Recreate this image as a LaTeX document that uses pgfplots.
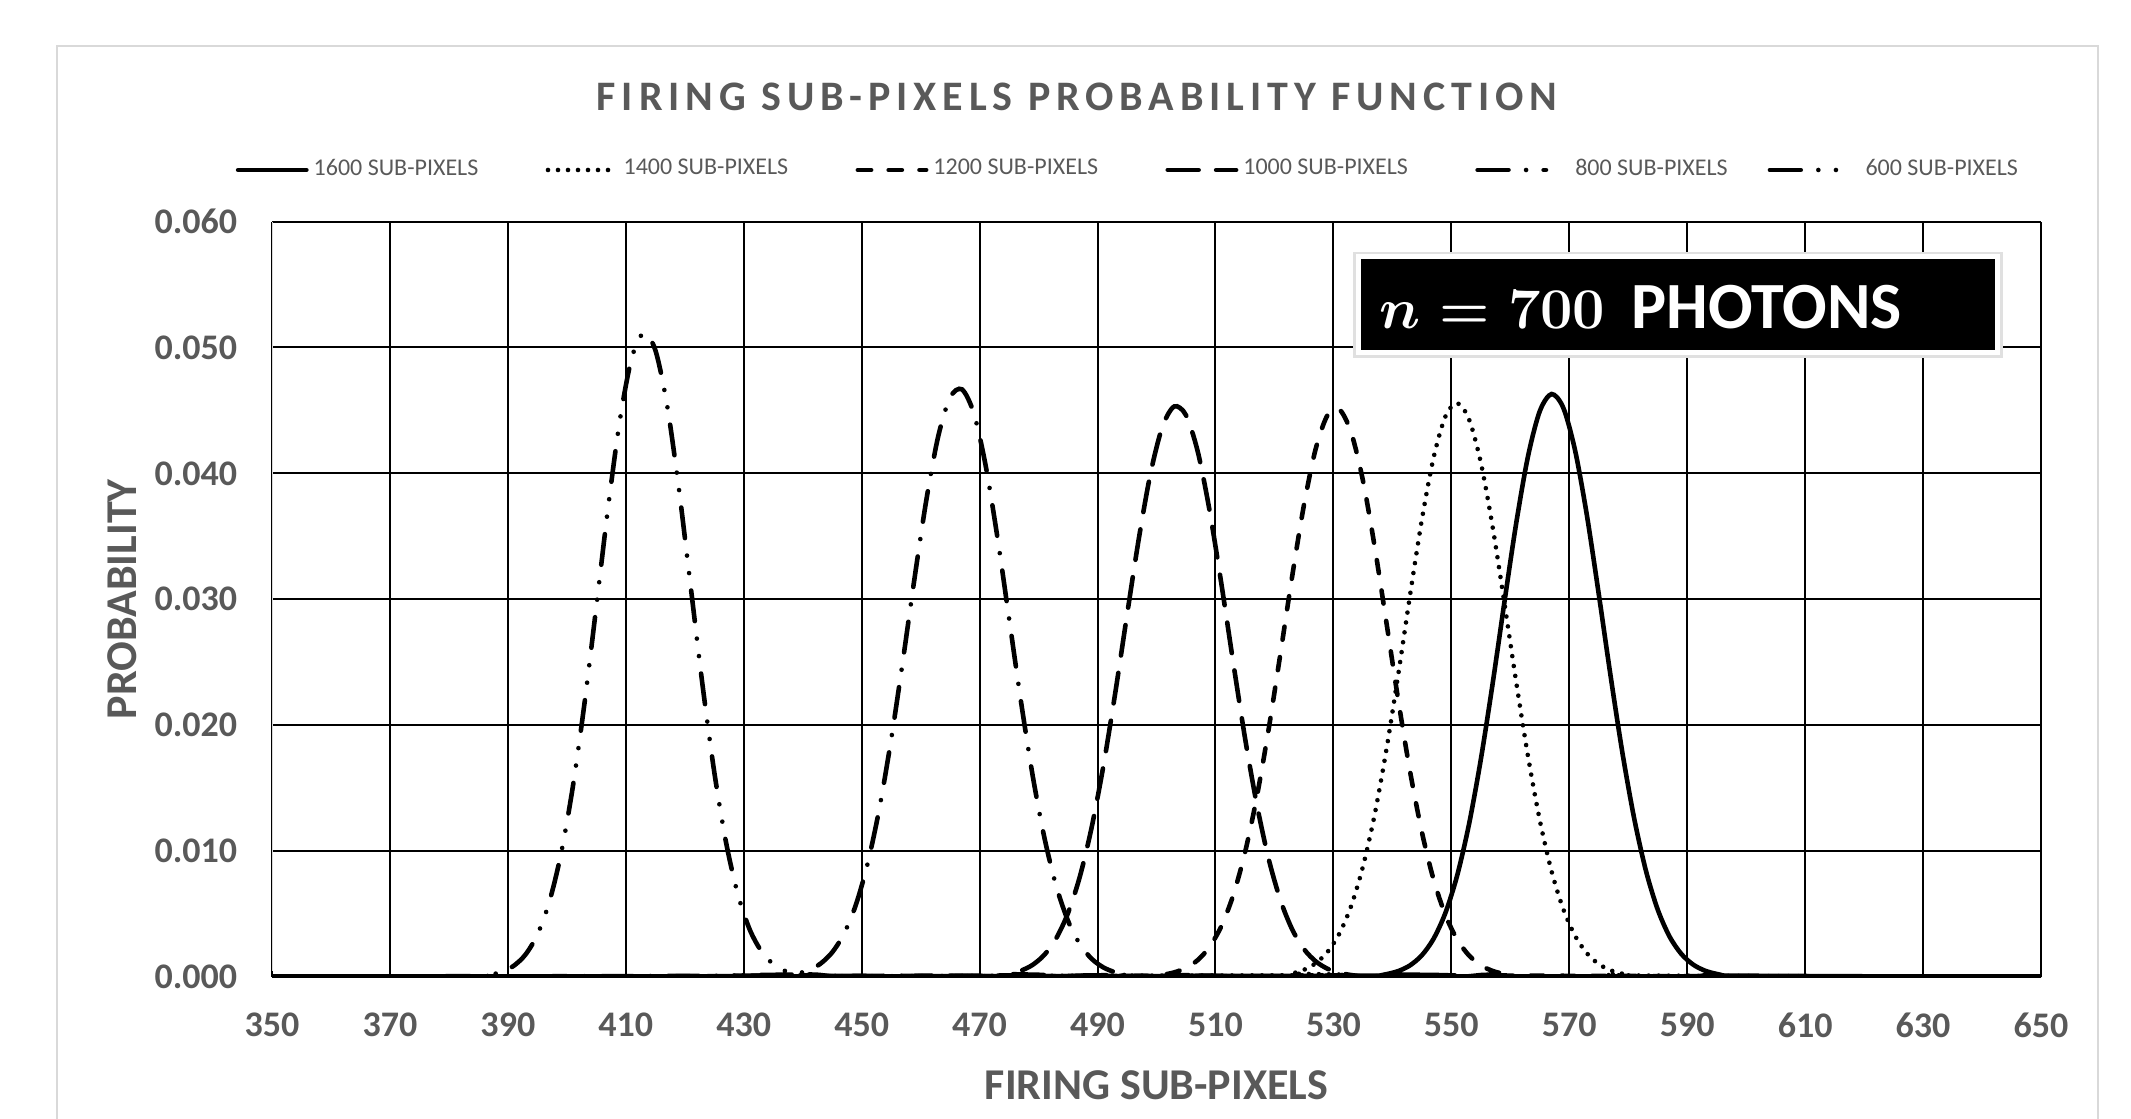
\documentclass[border=0pt]{standalone}
\usepackage{fontspec}
\usepackage{pgfplots}
\usepackage{pgfplotstable}
\pgfplotsset{compat=1.18}
\newfontfamily\carlito{Carlito}
\newfontfamily\carlitoSp[LetterSpace=14]{Carlito}
\definecolor{txtgray}{HTML}{595959}
\definecolor{framegray}{HTML}{D9D9D9}

% firing sub-pixels vs probability, n = 700 photons
\pgfplotstableread{
x y
350 0
537 0.000104
539 0.000227
541 0.000471
543 0.000927
545 0.001727
547 0.003048
549 0.005099
551 0.008083
553 0.01214
555 0.01728
557 0.02329
559 0.02977
561 0.03604
563 0.04135
565 0.04494
567 0.04630
569 0.04519
571 0.04179
573 0.03663
575 0.03041
577 0.02393
579 0.01784
581 0.01261
583 0.008439
585 0.005353
587 0.003217
589 0.001833
591 0.000989
593 0.000506
595 0.000245
597 0.000113
650 0
}\tSixteen

\pgfplotstableread{
x y
350 0
521 0.000133
523 0.000283
525 0.000572
527 0.001095
529 0.001991
531 0.003436
533 0.005629
535 0.008751
537 0.01291
539 0.01809
541 0.02404
543 0.03033
545 0.03632
547 0.04127
549 0.04452
551 0.04558
553 0.04429
555 0.04085
557 0.03575
559 0.02970
561 0.02342
563 0.01753
565 0.01245
567 0.008391
569 0.005369
571 0.003261
573 0.001880
575 0.001028
577 0.000534
579 0.000263
581 0.000123
650 0
}\tFourteen

\pgfplotstableread{
x y
350 0
499 0.0000811
501 0.000177
503 0.000367
505 0.000722
507 0.001349
509 0.002396
511 0.004044
513 0.006484
515 0.009873
517 0.01428
519 0.01963
521 0.02564
523 0.03180
525 0.03747
527 0.04195
529 0.04462
531 0.04508
533 0.04326
535 0.03945
537 0.03417
539 0.02812
541 0.02198
543 0.01632
545 0.01152
547 0.007717
549 0.004916
551 0.002973
553 0.001708
555 0.000932
557 0.000483
559 0.000238
561 0.000112
650 0
}\tTwelve

\pgfplotstableread{
x y
350 0
473 0.000116
475 0.000247
477 0.000502
479 0.000968
481 0.001771
483 0.003081
485 0.005086
487 0.007974
489 0.01188
491 0.01679
493 0.02255
495 0.02875
497 0.03481
499 0.04003
501 0.04370
503 0.04531
505 0.04462
507 0.04172
509 0.03704
511 0.03123
513 0.02501
515 0.01901
517 0.01373
519 0.009412
521 0.006128
523 0.003789
525 0.002225
527 0.001240
529 0.000657
531 0.000330
533 0.000158
535 0.0000714
650 0
}\tTen

\pgfplotstableread{
x y
350 0
437 0.000119
439 0.000260
441 0.000539
443 0.001055
445 0.001957
447 0.003436
449 0.005709
451 0.008985
453 0.01338
455 0.01886
457 0.02516
459 0.03178
461 0.03798
463 0.04298
465 0.04603
467 0.04667
469 0.04479
471 0.04068
473 0.03498
475 0.02847
477 0.02193
479 0.01599
481 0.01104
483 0.007214
485 0.004459
487 0.002611
489 0.001447
491 0.000759
493 0.000377
495 0.000177
497 0.0000787
650 0
}\tEight

\pgfplotstableread{
x y
350 0
385 0.0000743
387 0.000182
389 0.000416
391 0.000891
393 0.001789
395 0.003362
397 0.005921
399 0.009758
401 0.01506
403 0.02176
405 0.02943
407 0.03729
409 0.04424
411 0.04915
413 0.05112
415 0.04980
417 0.04542
419 0.03879
421 0.03102
423 0.02323
425 0.01629
427 0.01069
429 0.006575
431 0.003785
433 0.002041
435 0.001030
437 0.000487
439 0.000215
441 0.0000893
650 0
}\tSix

\tikzset{
  rdot/.style={dash pattern=on 0pt off 2.5pt},
  sdash/.style={dash pattern=on 3.3pt off 4.4pt},
  ldash/.style={dash pattern=on 7.7pt off 4.4pt},
  ldashdot/.style={dash pattern=on 7.7pt off 4.4pt on 0pt off 4.4pt},
  ldashdotdot/.style={dash pattern=on 7.7pt off 4.4pt on 0pt off 4.4pt on 0pt off 4.4pt},
}

\begin{document}
\begin{tikzpicture}
\useasboundingbox (0pt,0pt) rectangle (532.75pt,279.5pt);
\draw[framegray, line width=0.5pt] (14.25pt,-5pt) rectangle (524.5pt,268pt);
\node[font=\carlitoSp\bfseries\fontsize{10.5}{12}\selectfont, text=txtgray] at (269.25pt,255.4pt) {FIRING SUB-PIXELS PROBABILITY FUNCTION};

\begin{axis}[
  at={(68pt,35.25pt)}, anchor=south west,
  scale only axis, width=442.25pt, height=188.875pt,
  xmin=350, xmax=650, ymin=0, ymax=0.06,
  xtick={350,370,...,650},
  ytick={0,0.01,0.02,0.03,0.04,0.05,0.06},
  scaled y ticks=false,
  yticklabel style={/pgf/number format/fixed, /pgf/number format/fixed zerofill, /pgf/number format/precision=3},
  /pgf/number format/assume math mode=true,
  tick label style={font=\carlito\bfseries\fontsize{9}{10}\selectfont, text=txtgray, inner sep=0pt},
  xticklabel style={anchor=center, yshift=-12pt},
  yticklabel style={anchor=east, xshift=-8.5pt},
  major tick length=0pt,
  grid=major, grid style={black, line width=0.5pt},
  axis line style={draw=none},
  xlabel={FIRING SUB-PIXELS}, ylabel={PROBABILITY},
  label style={font=\carlito\bfseries\fontsize{11}{13}\selectfont, text=txtgray},
  xlabel style={at={(axis description cs:0.5,-0.143)}, anchor=center},
  ylabel style={at={(axis description cs:-0.0848,0.5)}, anchor=center},
  legend columns=6,
  legend style={at={(-0.0209,1.0682)}, anchor=west, draw=none, fill=none,
    inner sep=0pt, font=\carlito\fontsize{6}{7}\selectfont, text=txtgray,
    nodes={inner sep=0pt},
    /tikz/every odd column/.style={column sep=1.25pt}},
  every axis plot/.append style={line width=1.15pt, black, line cap=round, smooth, no markers},
]
\draw[black, line width=1.4pt] (axis cs:350,0) -- (axis cs:650,0);
\addplot[solid] table {\tSixteen};
\addlegendentry{\makebox[58pt][l]{1600 SUB-PIXELS}}
\addplot[rdot] table {\tFourteen};
\addlegendentry{\makebox[58pt][l]{1400 SUB-PIXELS}}
\addplot[sdash] table {\tTwelve};
\addlegendentry{\makebox[58pt][l]{1200 SUB-PIXELS}}
\addplot[ldash] table {\tTen};
\addlegendentry{\makebox[58pt][l]{1000 SUB-PIXELS}}
\addplot[ldashdot] table {\tEight};
\addlegendentry{\makebox[53.6pt][l]{\hspace{5.5pt}800 SUB-PIXELS}}
\addplot[ldashdotdot] table {\tSix};
\addlegendentry{\makebox[40pt][l]{\hspace{5pt}600 SUB-PIXELS}}
\draw[framegray, line width=0.6pt] (axis cs:350,0.0005) -- (axis cs:350,0.06);
\end{axis}

\fill[black!12] (338.3pt,190.1pt) rectangle (500.7pt,216.6pt);
\filldraw[fill=black, draw=white, line width=1.2pt] (339.6pt,191.35pt) rectangle (499.4pt,215.4pt);
\node[anchor=base west, inner sep=0pt, text=white, font=\boldmath\fontsize{14.2}{17}\selectfont] at (344.75pt,197.5pt) {$n = 700$};
\node[anchor=base west, inner sep=0pt, text=white, font=\carlito\bfseries\fontsize{16.5}{18}\selectfont] at (407.75pt,197.5pt) {PHOTONS};
\end{tikzpicture}
\end{document}
